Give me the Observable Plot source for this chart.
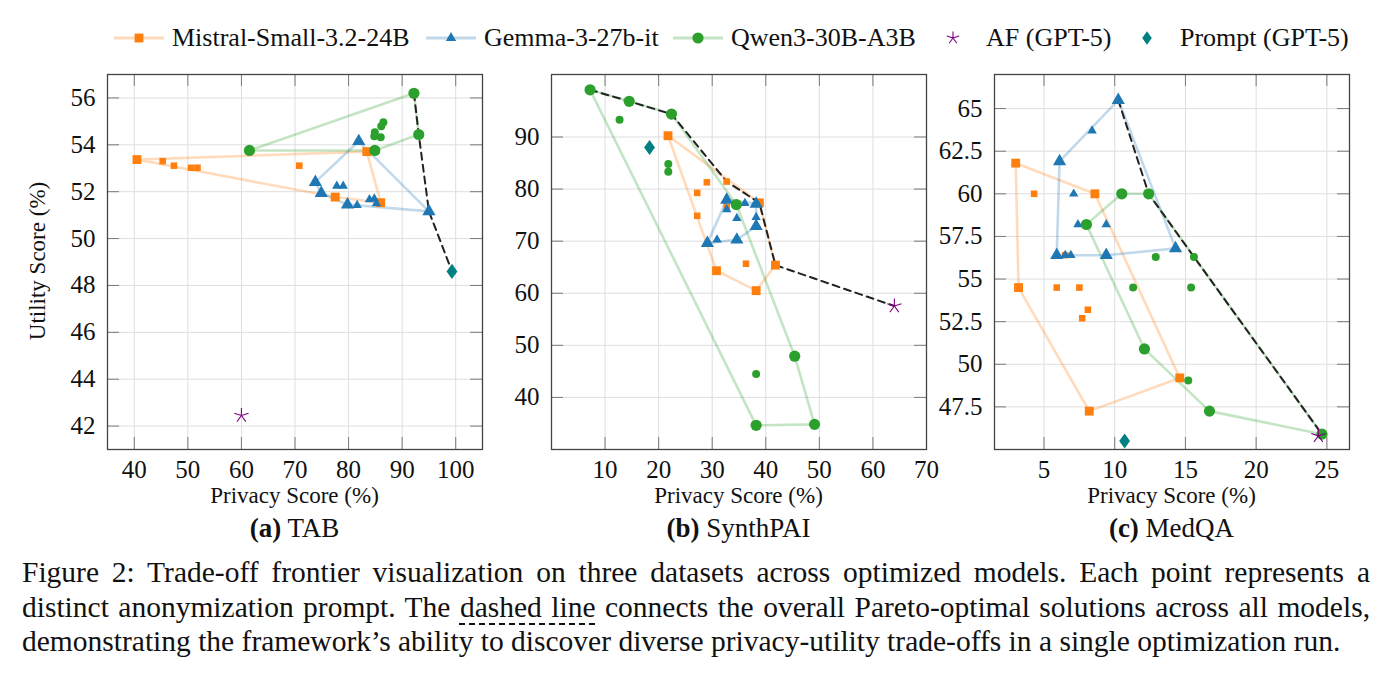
<!DOCTYPE html>
<html>
<head>
<meta charset="utf-8">
<script src="https://cdn.jsdelivr.net/npm/d3@7"></script>
<script src="https://cdn.jsdelivr.net/npm/@observablehq/plot@0.6"></script>
<style>
  body { margin: 0; background: #fff; }
  #fig { position: relative; width: 1395px; height: 676px; overflow: hidden;
         font-family: "Liberation Serif", "Times New Roman", serif; color: #111; }
  .abs { position: absolute; white-space: nowrap; }
  .xlabel { font-size: 23px; line-height: 23px; text-align: center; }
  .sub { font-size: 27px; line-height: 28px; text-align: center; }
  .legend-item { position: absolute; top: 25px; height: 26px; display: flex; align-items: center; font-size: 26px; line-height: 26px; white-space: nowrap; }
  .legend-item svg { display: block; }
  .cap { position: absolute; left: 22px; width: 1348px; font-size: 29.5px; line-height: 34px; text-align: justify; white-space: nowrap; }
  .cap.full { text-align-last: justify; }
  .dashed { text-decoration: underline dashed; text-decoration-thickness: 1.5px; text-underline-offset: 7px; }
</style>
</head>
<body>
<div id="fig"></div>
<script>
// ---------------- data ----------------
const modelNames = ["Mistral-Small-3.2-24B", "Gemma-3-27b-it", "Qwen3-30B-A3B"];
const afName = "AF (GPT-5)";
const promptName = "Prompt (GPT-5)";

// (a) TAB
const tabXTicks = [40, 50, 60, 70, 80, 90, 100];
const tabYTicks = [42, 44, 46, 48, 50, 52, 54, 56];
const tabMistralPrivacy = [40.5, 45.3, 47.4, 50.6, 51.8, 70.8, 83.4, 77.5, 86.0];
const tabMistralUtility = [53.37, 53.30, 53.11, 53.02, 53.02, 53.11, 53.71, 51.77, 51.53];
const tabGemmaPrivacy = [81.9, 73.8, 74.9, 77.8, 79.0, 79.8, 81.6, 83.9, 84.8, 85.2, 95.0];
const tabGemmaUtility = [54.15, 52.41, 51.94, 52.24, 52.24, 51.45, 51.42, 51.67, 51.70, 51.50, 51.16];
const tabQwenPrivacy = [92.2, 93.1, 84.9, 61.5, 86.5, 86.1, 84.9, 84.8, 86.0];
const tabQwenUtility = [56.20, 54.44, 53.76, 53.76, 54.96, 54.79, 54.54, 54.37, 54.32];
const tabAF = [60.0, 42.45];
const tabPrompt = [99.3, 48.6];
const tabParetoPrivacy = [92.2, 93.1, 95.0, 99.3];
const tabParetoUtility = [56.20, 54.44, 51.16, 48.6];

// (b) SynthPAI
const synthXTicks = [10, 20, 30, 40, 50, 60, 70];
const synthYTicks = [40, 50, 60, 70, 80, 90];
const synthMistralPrivacy = [21.75, 29.0, 27.2, 32.7, 38.8, 27.2, 30.8, 36.3, 38.2, 41.8, 32.7];
const synthMistralUtility = [90.25, 81.3, 79.27, 81.44, 77.36, 74.87, 64.33, 65.67, 60.5, 65.4, 76.6];
const synthGemmaPrivacy = [32.7, 32.7, 36.1, 38.2, 34.6, 38.2, 38.2, 29.1, 30.9, 34.6];
const synthGemmaUtility = [77.93, 76.07, 77.28, 77.16, 74.41, 74.6, 72.87, 69.62, 70.27, 70.27];
const synthQwenPrivacy = [7.2, 14.5, 22.4, 12.7, 21.8, 21.8, 34.5, 45.4, 49.1, 38.2, 38.2];
const synthQwenUtility = [99.06, 96.85, 94.4, 93.31, 84.83, 83.35, 77.03, 47.91, 34.83, 34.64, 44.52];
const synthAF = [64.0, 57.55];
const synthPrompt = [18.3, 88.0];
const synthParetoPrivacy = [7.2, 14.5, 22.4, 32.7, 38.8, 41.8, 64.0];
const synthParetoUtility = [99.06, 96.85, 94.4, 81.44, 77.36, 65.4, 57.55];

// (c) MedQA
const medXTicks = [5, 10, 15, 20, 25];
const medYTicks = [47.5, 50, 52.5, 55, 57.5, 60, 62.5, 65];
const medMistralPrivacy = [3.0, 4.3, 8.6, 3.2, 5.9, 7.5, 8.1, 7.7, 14.6, 8.2, 6.5];
const medMistralUtility = [61.8, 60.0, 60.0, 54.5, 54.5, 54.5, 53.2, 52.7, 49.2, 47.25, 56.4];
const medGemmaPrivacy = [10.25, 8.4, 6.1, 7.1, 7.4, 9.4, 5.9, 6.5, 6.9, 9.4, 14.3];
const medGemmaUtility = [65.5, 63.7, 61.9, 60.0, 58.2, 58.2, 56.4, 56.4, 56.4, 56.4, 56.8];
const medQwenPrivacy = [10.5, 12.4, 8.0, 12.9, 15.6, 11.3, 15.4, 12.1, 15.2, 16.7, 24.65];
const medQwenUtility = [60.0, 60.0, 58.2, 56.3, 56.3, 54.5, 54.5, 50.9, 49.05, 47.25, 45.9];
const medAF = [24.4, 45.8];
const medPrompt = [10.7, 45.5];
const medParetoPrivacy = [10.25, 12.4, 15.6, 24.65];
const medParetoUtility = [65.5, 60.0, 56.3, 45.9];

// ---------------- styling ----------------
const COLORS = { mistral: "#ff7f0e", gemma: "#1f77b4", qwen: "#2ca02c", af: "#800080", prompt: "#008080" };
const SYMBOLS = { mistral: "square", gemma: "triangle", qwen: "circle" };
const BIG_R = { mistral: 5.0, gemma: 4.9, qwen: 5.6 };
const SMALL_R = { mistral: 3.7, gemma: 3.5, qwen: 4.0 };

// five-armed star (drawn with strokes only)
const starSymbol = {
  draw(ctx, size) {
    const r = Math.sqrt(size / Math.PI);
    for (let k = 0; k < 5; k++) {
      const a = -Math.PI / 2 + k * 2 * Math.PI / 5;
      ctx.moveTo(0, 0);
      ctx.lineTo(r * Math.cos(a), r * Math.sin(a));
    }
  }
};
// tall diamond
const diamondSymbol = {
  draw(ctx, size) {
    const s = Math.sqrt(size);
    const w = s * 0.36, h = s * 0.5;
    ctx.moveTo(0, -h); ctx.lineTo(w, 0); ctx.lineTo(0, h); ctx.lineTo(-w, 0); ctx.closePath();
  }
};

const FRAME_H = 375, ML = 80, MR = 12, MT = 12, MB = 44, FRAME_TOP = 74;
const fig = document.getElementById("fig");

function makeSeries(key, xs, ys) {
  const pts = xs.map((x, i) => [x, ys[i]]);
  const hull = d3.polygonHull(pts);
  const onHull = new Set(hull);
  return {
    key,
    rows: pts.map(p => ({ x: p[0], y: p[1], hull: onHull.has(p) })),
    hull: [...hull, hull[0]]
  };
}

function drawPanel(p) {
  const series = [
    makeSeries("mistral", p.mistral[0], p.mistral[1]),
    makeSeries("gemma", p.gemma[0], p.gemma[1]),
    makeSeries("qwen", p.qwen[0], p.qwen[1])
  ];
  const pareto = p.pareto[0].map((x, i) => ({ x, y: p.pareto[1][i] }));
  const tickStroke = "#7a7a7a";
  const marks = [
    Plot.gridX(p.xTicks, { stroke: "#dedede", strokeOpacity: 1, strokeWidth: 1 }),
    Plot.gridY(p.yTicks, { stroke: "#dedede", strokeOpacity: 1, strokeWidth: 1 }),
    // inward tick marks on all four sides
    Plot.ruleX(p.xTicks, { x: d => d, y1: p.yDomain[0], y2: p.yDomain[0], insetTop: -12, stroke: tickStroke }),
    Plot.ruleX(p.xTicks, { x: d => d, y1: p.yDomain[1], y2: p.yDomain[1], insetBottom: -12, stroke: tickStroke }),
    Plot.ruleY(p.yTicks, { y: d => d, x1: p.xDomain[0], x2: p.xDomain[0], insetRight: -12, stroke: tickStroke }),
    Plot.ruleY(p.yTicks, { y: d => d, x1: p.xDomain[1], x2: p.xDomain[1], insetLeft: -12, stroke: tickStroke }),
    Plot.axisX(p.xTicks, { anchor: "bottom", tickSize: 0, tickPadding: 11, label: null, tickFormat: d => String(d), fontSize: 25 }),
    Plot.axisY(p.yTicks, { anchor: "left", tickSize: 0, tickPadding: 12, label: null, tickFormat: d => String(d), fontSize: 25 }),
    // per-model hull outlines
    ...series.map(s => Plot.line(s.hull, { x: d => d[0], y: d => d[1], stroke: COLORS[s.key], strokeOpacity: 0.28, strokeWidth: 2.6 })),
    // overall Pareto front
    Plot.line(pareto, { x: "x", y: "y", stroke: "#222", strokeWidth: 2, strokeDasharray: "7,5" }),
    // prompts, larger on the hull
    ...series.flatMap(s => [
      Plot.dot(s.rows.filter(d => !d.hull), { x: "x", y: "y", symbol: SYMBOLS[s.key], fill: COLORS[s.key], r: SMALL_R[s.key] }),
      Plot.dot(s.rows.filter(d => d.hull), { x: "x", y: "y", symbol: SYMBOLS[s.key], fill: COLORS[s.key], r: BIG_R[s.key] })
    ]),
    Plot.dot([p.af], { x: d => d[0], y: d => d[1], symbol: starSymbol, stroke: COLORS.af, fill: "none", strokeWidth: 1.1, r: 7.5 }),
    Plot.dot([p.prompt], { x: d => d[0], y: d => d[1], symbol: diamondSymbol, fill: COLORS.prompt, r: 8.5 }),
    Plot.frame({ stroke: "#444", strokeWidth: 1.3 })
  ];
  const svg = Plot.plot({
    width: p.width + ML + MR,
    height: FRAME_H + MT + MB,
    marginLeft: ML, marginRight: MR, marginTop: MT, marginBottom: MB,
    x: { domain: p.xDomain },
    y: { domain: p.yDomain },
    style: { fontFamily: '"Liberation Serif", "Times New Roman", serif', fontSize: "25px", color: "#111", background: "transparent", overflow: "visible" },
    marks
  });
  svg.style.position = "absolute";
  svg.style.left = (p.left - ML) + "px";
  svg.style.top = (FRAME_TOP - MT) + "px";
  fig.append(svg);

  const xl = document.createElement("div");
  xl.className = "abs xlabel";
  xl.style.left = p.left + "px";
  xl.style.width = p.width + "px";
  xl.style.top = "484px";
  xl.textContent = "Privacy Score (%)";
  fig.append(xl);

  const sub = document.createElement("div");
  sub.className = "abs sub";
  sub.style.left = p.left + "px";
  sub.style.width = p.width + "px";
  sub.style.top = "514px";
  sub.innerHTML = `<b>(${p.id})</b> ${p.name}`;
  fig.append(sub);
}

const panels = [
  { id: "a", name: "TAB", left: 107, width: 375, xDomain: [35, 105], yDomain: [41, 57], xTicks: tabXTicks, yTicks: tabYTicks,
    mistral: [tabMistralPrivacy, tabMistralUtility], gemma: [tabGemmaPrivacy, tabGemmaUtility], qwen: [tabQwenPrivacy, tabQwenUtility],
    af: tabAF, prompt: tabPrompt, pareto: [tabParetoPrivacy, tabParetoUtility] },
  { id: "b", name: "SynthPAI", left: 551, width: 375, xDomain: [0, 70], yDomain: [30, 102], xTicks: synthXTicks, yTicks: synthYTicks,
    mistral: [synthMistralPrivacy, synthMistralUtility], gemma: [synthGemmaPrivacy, synthGemmaUtility], qwen: [synthQwenPrivacy, synthQwenUtility],
    af: synthAF, prompt: synthPrompt, pareto: [synthParetoPrivacy, synthParetoUtility] },
  { id: "c", name: "MedQA", left: 994, width: 355, xDomain: [1.5, 26.6], yDomain: [45, 67], xTicks: medXTicks, yTicks: medYTicks,
    mistral: [medMistralPrivacy, medMistralUtility], gemma: [medGemmaPrivacy, medGemmaUtility], qwen: [medQwenPrivacy, medQwenUtility],
    af: medAF, prompt: medPrompt, pareto: [medParetoPrivacy, medParetoUtility] }
];
panels.forEach(drawPanel);

// y-axis title (first panel only)
const yl = document.createElement("div");
yl.className = "abs";
yl.style.cssText = "left:37px;top:261px;font-size:23px;line-height:23px;transform:translate(-50%,-50%) rotate(-90deg);";
yl.textContent = "Utility Score (%)";
fig.append(yl);

// ---------------- legend ----------------
function legendIcon(kind) {
  const w = kind === "af" || kind === "prompt" ? 22 : 50;
  const svg = d3.create("svg").attr("width", w).attr("height", 26);
  const g = svg.append("g").attr("transform", `translate(${w / 2},13)`);
  if (kind === "af") {
    g.append("path").attr("d", d3.symbol(starSymbol, Math.PI * 6.5 * 6.5)()).attr("stroke", COLORS.af).attr("fill", "none").attr("stroke-width", 1.1);
  } else if (kind === "prompt") {
    g.append("path").attr("d", d3.symbol(diamondSymbol, Math.PI * 7.5 * 7.5)()).attr("fill", COLORS.prompt);
  } else {
    g.append("line").attr("x1", -w / 2).attr("x2", w / 2).attr("stroke", COLORS[kind]).attr("stroke-opacity", 0.28).attr("stroke-width", 3);
    const type = { mistral: d3.symbolSquare, gemma: d3.symbolTriangle2, qwen: d3.symbolCircle }[kind];
    g.append("path").attr("d", d3.symbol(type, Math.PI * BIG_R[kind] * BIG_R[kind])()).attr("fill", COLORS[kind]);
  }
  return svg.node();
}
const legendItems = [
  { kind: "mistral", label: modelNames[0], left: 114 },
  { kind: "gemma", label: modelNames[1], left: 426 },
  { kind: "qwen", label: modelNames[2], left: 673 },
  { kind: "af", label: afName, left: 942 },
  { kind: "prompt", label: promptName, left: 1136 }
];
legendItems.forEach(it => {
  const div = document.createElement("div");
  div.className = "legend-item";
  div.style.left = it.left + "px";
  div.append(legendIcon(it.kind));
  const span = document.createElement("span");
  span.style.marginLeft = (it.kind === "af" || it.kind === "prompt") ? "22px" : "8px";
  span.textContent = it.label;
  div.append(span);
  fig.append(div);
});

// ---------------- caption ----------------
const captionLines = [
  { cls: "cap full", html: "Figure 2: Trade-off frontier visualization on three datasets across optimized models. Each point represents a" },
  { cls: "cap full", html: "distinct anonymization prompt. The <span class=\"dashed\">dashed line</span> connects the overall Pareto-optimal solutions across all models," },
  { cls: "cap", html: "demonstrating the framework’s ability to discover diverse privacy-utility trade-offs in a single optimization run." }
];
captionLines.forEach((ln, i) => {
  const d = document.createElement("div");
  d.className = ln.cls;
  d.style.top = (555 + i * 34.5) + "px";
  d.innerHTML = ln.html;
  fig.append(d);
});
</script>
</body>
</html>
